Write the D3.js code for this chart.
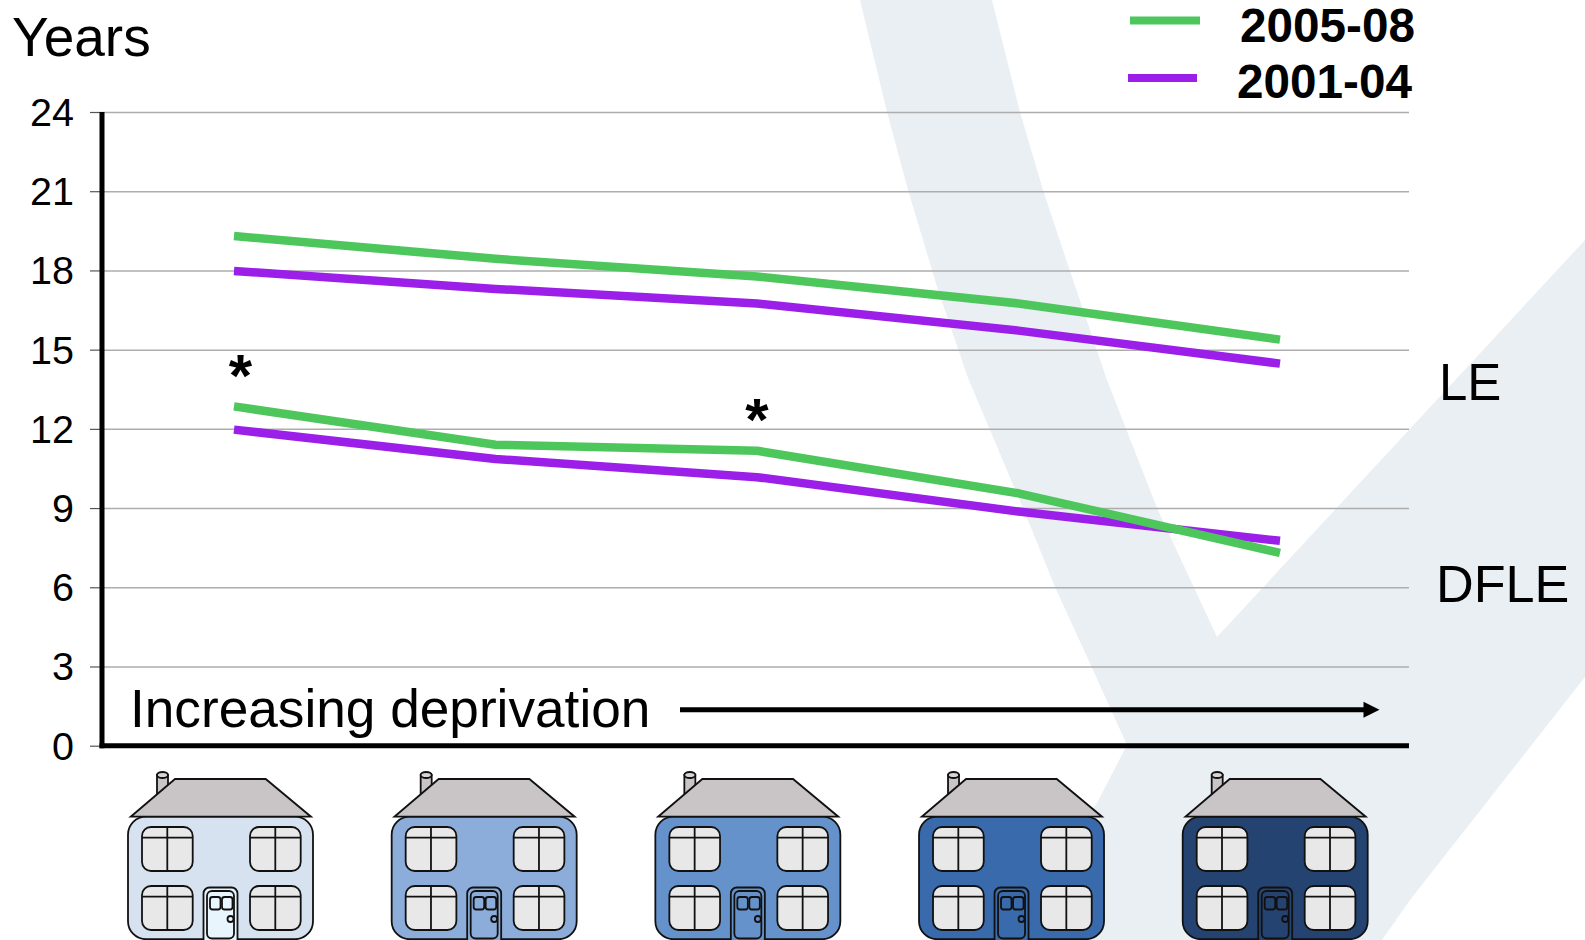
<!DOCTYPE html>
<html>
<head>
<meta charset="utf-8">
<script src="https://cdnjs.cloudflare.com/ajax/libs/d3/7.8.5/d3.min.js"></script>
<style>
  html, body { margin: 0; padding: 0; background: #fff; overflow: hidden; }
  svg { display: block; font-family: "Liberation Sans", Arial, sans-serif; }
</style>
</head>
<body>
<svg id="chart" width="1585" height="940"></svg>
<script>
// Deprivation groups, least to most deprived
const groups = ["Q1", "Q2", "Q3", "Q4", "Q5"];
const yTicks = [0, 3, 6, 9, 12, 15, 18, 21, 24];

// Expectancy in years per group
const le200508 = [19.3, 18.44, 17.77, 16.75, 15.38];
const le200104 = [17.98, 17.3, 16.75, 15.72, 14.47];
const dfle200508 = [12.85, 11.4, 11.17, 9.56, 7.3];
const dfle200104 = [11.97, 10.86, 10.17, 8.87, 7.76];

const periods = ["2005-08", "2001-04"];
const periodColours = ["#4dc75c", "#9b1fe8"];
const houseColours = ["#d6e2f0", "#8cadd9", "#6592cb", "#396aab", "#254371"];
const doorColours = ["#e8f5fc", "#8cadd9", "#6592cb", "#396aab", "#254371"];

// Groups that carry a significance marker on the DFLE 2005-08 line
const starred = ["Q1", "Q3"];

const svg = d3.select("#chart");
const x = d3.scalePoint().domain(groups).range([234, 1280]);
const xHouse = d3.scalePoint().domain(groups).range([128, 1182.7]);
const y = d3.scaleLinear().domain([0, 24]).range([745.7, 112]);

// Pale tick-mark watermark behind the plot
svg.append("path")
  .attr("fill", "#eaeff4")
  .attr("d", "M860,0 L887,112 L908,190 L938,290 L968,378 L990,430 L1025,513 L1055,587 L1093,670 L1127,745 L1097,803 L990,940 L1382,940 L1410,900 L1585,677 L1585,240 L1217,637 L1157,508 L1107,380 L1070,271 L1043,190 L1020,112 L992,0 Z");

// Gridlines
svg.append("g")
  .attr("transform", "translate(102,0)")
  .call(d3.axisRight(y).tickValues(yTicks).tickSize(1307).tickFormat(""))
  .call(g => g.select(".domain").remove())
  .call(g => g.selectAll("line").attr("stroke", "#adadad").attr("stroke-width", 1.5));

// Y axis ticks and labels
svg.append("g")
  .attr("transform", "translate(102,0)")
  .call(d3.axisLeft(y).tickValues(yTicks).tickSize(12).tickPadding(16))
  .call(g => g.select(".domain").remove())
  .call(g => g.selectAll("line").attr("stroke", "#555").attr("stroke-width", 1.2))
  .call(g => g.selectAll("text")
    .attr("font-family", "'Liberation Sans', Arial, sans-serif")
    .attr("font-size", 39.5)
    .attr("fill", "#000")
    .attr("dy", "0.34em"));

// Axis lines
svg.append("line").attr("x1", 102).attr("x2", 102).attr("y1", y(24)).attr("y2", y(0) + 2.5)
  .attr("stroke", "#000").attr("stroke-width", 5);
svg.append("line").attr("x1", 99.5).attr("x2", 1409).attr("y1", y(0)).attr("y2", y(0))
  .attr("stroke", "#000").attr("stroke-width", 5);

// Series lines
const line = d3.line().x((d, i) => x(groups[i])).y(d => y(d));
[[dfle200104, 1], [dfle200508, 0], [le200104, 1], [le200508, 0]].forEach(([values, p]) => {
  svg.append("path")
    .attr("d", line(values))
    .attr("fill", "none")
    .attr("stroke", periodColours[p])
    .attr("stroke-width", 8.5)
    .attr("stroke-linejoin", "round");
});

// Significance markers
starred.forEach(g => {
  svg.append("text")
    .attr("x", x(g) + (g === "Q1" ? 6.5 : 0))
    .attr("y", y(dfle200508[groups.indexOf(g)]) - 10.5)
    .attr("text-anchor", "middle")
    .attr("font-size", 60)
    .attr("font-weight", "bold")
    .text("*");
});

// Legend
const legendRows = [
  { x1: 1130, x2: 1200, ly: 20.5, tx: 1240, ty: 41.7 },
  { x1: 1128, x2: 1197, ly: 78, tx: 1237, ty: 98.3 }
];
legendRows.forEach((r, i) => {
  svg.append("line").attr("x1", r.x1).attr("x2", r.x2).attr("y1", r.ly).attr("y2", r.ly)
    .attr("stroke", periodColours[i]).attr("stroke-width", 8);
  svg.append("text").attr("x", r.tx).attr("y", r.ty)
    .attr("font-size", 47.7).attr("font-weight", "bold").text(periods[i]);
});

// Free-standing labels
const label = (text, tx, ty, size) => svg.append("text")
  .attr("x", tx).attr("y", ty).attr("font-size", size).attr("fill", "#000").text(text);
label("Years", 12, 55.5, 55);
label("LE", 1439, 400, 51);
label("DFLE", 1436, 601.5, 52.2);
label("Increasing deprivation", 130, 726.7, 53.2);

// Deprivation arrow
svg.append("line").attr("x1", 680).attr("x2", 1366).attr("y1", 709.7).attr("y2", 709.7)
  .attr("stroke", "#000").attr("stroke-width", 5);
svg.append("path").attr("fill", "#000")
  .attr("d", "M1363.5,701.7 L1379.5,709.7 L1363.5,717.7 Z");

// One house per deprivation group
groups.forEach((g, i) => {
  const h = svg.append("g").attr("transform", `translate(${xHouse(g)},0)`)
    .attr("stroke", "#111").attr("stroke-width", 1.8);

  // Chimney sits behind the roof
  h.append("rect").attr("x", 29).attr("y", 775).attr("width", 11).attr("height", 30).attr("fill", "#c9c5c6");
  h.append("ellipse").attr("cx", 34.5).attr("cy", 775).attr("rx", 5.5).attr("ry", 3).attr("fill", "#d8d5d6");

  h.append("rect").attr("x", 0).attr("y", 816.7).attr("width", 185).attr("height", 122.5).attr("rx", 18)
    .attr("fill", houseColours[i]);
  h.append("path").attr("d", "M2.7,816.7 L47,779 L137.7,779 L183,816.7 Z").attr("fill", "#c9c5c6");

  // Windows with their glazing bars
  [[14, 827], [122, 827], [14, 886], [122, 886]].forEach(([wx, wy]) => {
    h.append("rect").attr("x", wx).attr("y", wy).attr("width", 50.7).attr("height", 44).attr("rx", 9)
      .attr("fill", "#e8e8e8");
    h.append("line").attr("x1", wx + 25.3).attr("x2", wx + 25.3).attr("y1", wy).attr("y2", wy + 44);
    h.append("line").attr("x1", wx).attr("x2", wx + 50.7).attr("y1", wy + 10.7).attr("y2", wy + 10.7);
  });

  // Door, frame, panes and knob
  h.append("rect").attr("x", 75.5).attr("y", 887.5).attr("width", 34).attr("height", 60).attr("rx", 6)
    .attr("fill", doorColours[i]);
  h.append("rect").attr("x", 79).attr("y", 891).attr("width", 27).attr("height", 47.5).attr("rx", 5)
    .attr("fill", doorColours[i]);
  h.append("rect").attr("x", 82).attr("y", 897).attr("width", 10.5).attr("height", 12.5).attr("rx", 2.5)
    .attr("fill", doorColours[i]);
  h.append("rect").attr("x", 94).attr("y", 897).attr("width", 10.5).attr("height", 12.5).attr("rx", 2.5)
    .attr("fill", doorColours[i]);
  h.append("circle").attr("cx", 102.5).attr("cy", 919).attr("r", 3).attr("fill", doorColours[i]);
});
</script>
</body>
</html>
